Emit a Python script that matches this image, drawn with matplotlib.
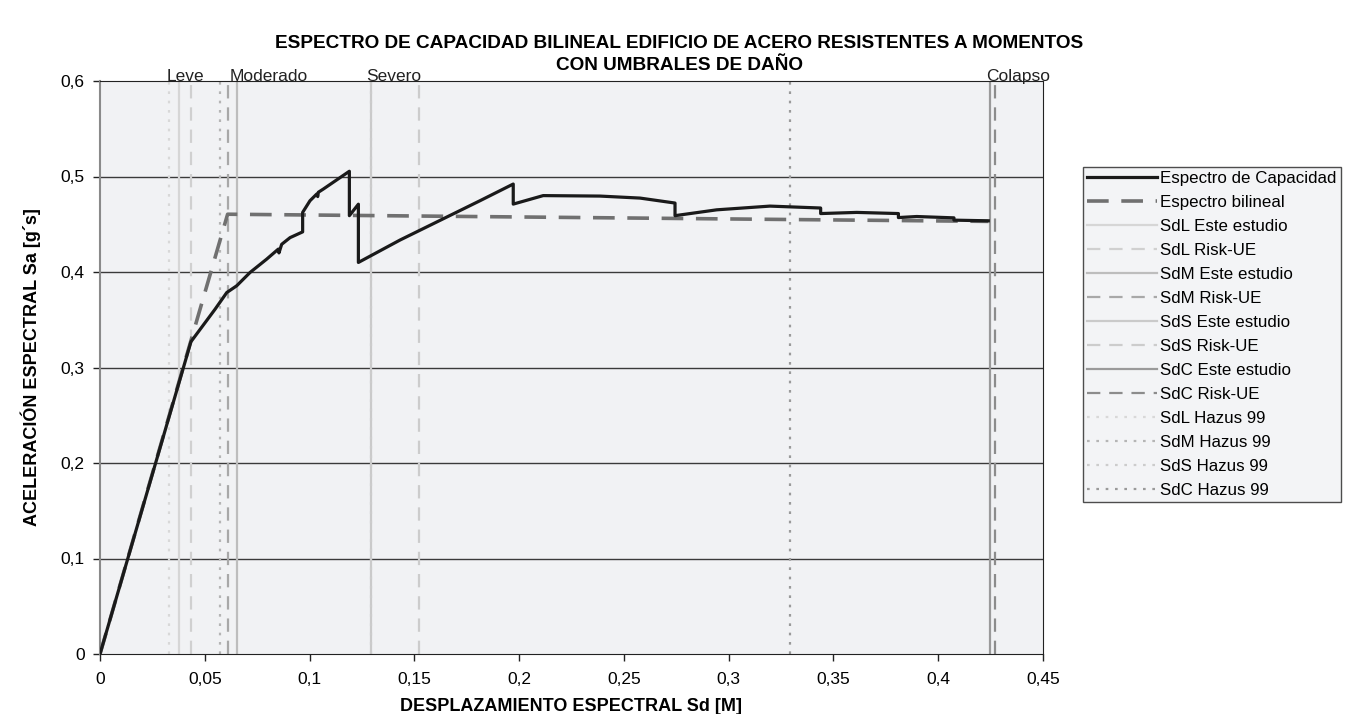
import matplotlib
matplotlib.use("Agg")
import matplotlib.pyplot as plt

plt.rcParams['font.family'] = ['Liberation Sans', 'DejaVu Sans']

# Capacity spectrum (Sd [m], Sa [g])
cap_sd = [0.0, 0.0434, 0.0549, 0.0605, 0.0652, 0.0716, 0.0795, 0.0851, 0.0854, 0.0867,
          0.0907, 0.0967, 0.0967, 0.1002, 0.1034, 0.1039, 0.1042, 0.1066, 0.1190, 0.1190,
          0.1233, 0.1233, 0.1432, 0.1813, 0.1972, 0.1972, 0.2115, 0.2386, 0.2577, 0.2744,
          0.2744, 0.2943, 0.3197, 0.3439, 0.3439, 0.3611, 0.3810, 0.3810, 0.3897, 0.4075,
          0.4075, 0.4239]
cap_sa = [0.0, 0.327, 0.361, 0.3785, 0.3855, 0.3995, 0.4134, 0.424, 0.420, 0.429,
          0.436, 0.442, 0.4624, 0.4746, 0.4816, 0.4790, 0.4835, 0.4869, 0.5055, 0.459,
          0.471, 0.410, 0.4335, 0.4746, 0.4921, 0.4711, 0.4800, 0.4795, 0.4774, 0.4722,
          0.459, 0.4651, 0.4690, 0.4670, 0.4612, 0.4624, 0.4612, 0.4570, 0.4581, 0.4567,
          0.4543, 0.4536]

# Bilinear spectrum
bil_sd = [0.0, 0.0609, 0.4239]
bil_sa = [0.0, 0.4605, 0.4530]

# Damage thresholds
thr_labels = ["SdL Este estudio", "SdL Risk-UE", "SdM Este estudio", "SdM Risk-UE",
              "SdS Este estudio", "SdS Risk-UE", "SdC Este estudio", "SdC Risk-UE",
              "SdL Hazus 99", "SdM Hazus 99", "SdS Hazus 99", "SdC Hazus 99"]
thr_values = [0.0375, 0.0432, 0.0652, 0.0609,
              0.1291, 0.1523, 0.4247, 0.4271,
              0.0329, 0.0573, 0.1291, 0.3292]
thr_styles = ['-', (0, (6, 4)), '-', (0, (6, 4)),
              '-', (0, (6, 4)), '-', (0, (6, 4)),
              (0, (1.2, 3)), (0, (1.2, 3)), (0, (1.2, 3)), (0, (1.2, 3))]
thr_colors = ['#d6d6d6', '#d0d0d0', '#bdbdbd', '#a8a8a8',
              '#cacaca', '#cccccc', '#9a9a9a', '#8c8c8c',
              '#d8d8d8', '#b5b5b5', '#cccccc', '#9a9a9a']

zone_labels = ["Leve", "Moderado", "Severo", "Colapso"]
zone_x = [0.0318, 0.0617, 0.1272, 0.4228]

x_ticks = [0, 0.05, 0.1, 0.15, 0.2, 0.25, 0.3, 0.35, 0.4, 0.45]
y_ticks = [0, 0.1, 0.2, 0.3, 0.4, 0.5, 0.6]

FS = 12.5
LFS = 12.2

fig = plt.figure(figsize=(13.5, 7.14), dpi=100)
ax = fig.add_axes([100/1350, 1-654/714, (1043-100)/1350, (654-81)/714])
ax.set_facecolor('#f1f2f4')

for yv in y_ticks[1:-1]:
    ax.axhline(yv, color='#3a3a3a', lw=1.0, zorder=1)

handles = []
h1, = ax.plot(cap_sd, cap_sa, color='#1a1a1a', lw=2.3, zorder=5, label="Espectro de Capacidad")
h2, = ax.plot(bil_sd, bil_sa, color='#707070', lw=2.6, ls=(0, (6, 3.5)), zorder=4,
              label="Espectro bilineal")
handles += [h1, h2]
for lab, v, st, c in zip(thr_labels, thr_values, thr_styles, thr_colors):
    h = ax.axvline(v, color=c, ls=st, lw=1.6, zorder=2, label=lab)
    handles.append(h)

ax.set_xlim(0, 0.45)
ax.set_ylim(0, 0.6)
ax.set_xticks(x_ticks)
ax.set_yticks(y_ticks)
ax.set_xticklabels([("%g" % t).replace('.', ',') for t in x_ticks], fontsize=FS)
ax.set_yticklabels([("%g" % t).replace('.', ',') for t in y_ticks], fontsize=FS)
ax.tick_params(axis='both', direction='out', length=5, color='#222222', width=1)
ax.tick_params(axis='x', pad=8)
ax.tick_params(axis='y', pad=6)
ax.spines['left'].set_color('#8a8a8a')
ax.spines['left'].set_linewidth(1.5)
ax.spines['bottom'].set_color('#222222')
ax.spines['top'].set_color('#222222')
ax.spines['right'].set_color('#222222')

for lab, xv in zip(zone_labels, zone_x):
    ax.text(xv, 0.6, lab, ha='left', va='baseline', fontsize=FS, color='#222222',
            clip_on=False)

ax.set_xlabel("DESPLAZAMIENTO ESPECTRAL Sd [M]", fontsize=13, fontweight='bold', labelpad=8)
ax.set_ylabel("ACELERACIÓN ESPECTRAL Sa [g´s]", fontsize=13, fontweight='bold', labelpad=14)

fig.text(679/1350, 1-44/714, "ESPECTRO DE CAPACIDAD BILINEAL EDIFICIO DE ACERO RESISTENTES A MOMENTOS",
         ha='center', va='center', fontsize=13.7, fontweight='bold')
fig.text(679/1350, 1-65/714, "CON UMBRALES DE DAÑO",
         ha='center', va='center', fontsize=13.7, fontweight='bold')

leg = fig.legend(handles=handles, loc='upper left', bbox_to_anchor=(1083/1350, 1-167/714),
                 fontsize=LFS, frameon=True, fancybox=False, handlelength=4.1,
                 handletextpad=0.2, labelspacing=0.53, borderpad=0.25, borderaxespad=0)
leg.get_frame().set_edgecolor('#222222')
leg.get_frame().set_facecolor('#f1f2f4')
leg.get_frame().set_linewidth(1.0)

fig.savefig("out.png", dpi=100, facecolor='white')
